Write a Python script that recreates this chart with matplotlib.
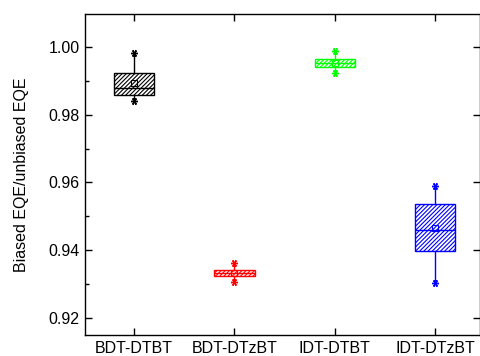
import numpy as np
import matplotlib
matplotlib.use("Agg")
import matplotlib.pyplot as plt

plt.rcParams['font.family'] = ['Liberation Sans', 'DejaVu Sans']
plt.rcParams['hatch.linewidth'] = 0.8

names = ["BDT-DTBT", "BDT-DTzBT", "IDT-DTBT", "IDT-DTzBT"]
colors = ["#000000", "#ff0000", "#00ff00", "#0000ff"]
q1 = [0.9858, 0.9324, 0.9941, 0.9398]
q3 = [0.9923, 0.9342, 0.9965, 0.9537]
med = [0.9879, 0.9334, 0.9953, 0.9460]
mean = [0.9894, 0.9333, 0.9952, 0.9465]
vmin = [0.9841, 0.9306, 0.9923, 0.9303]
vmax = [0.9982, 0.9362, 0.9988, 0.9590]

fig = plt.figure(figsize=(4.81, 3.56), dpi=100)
ax = fig.add_axes([0.177, 0.059, 0.821, 0.902])

pos = np.arange(1, len(names) + 1)
for i in range(len(names)):
    c = colors[i]
    st = [dict(med=med[i], q1=q1[i], q3=q3[i], whislo=vmin[i], whishi=vmax[i],
               mean=mean[i], fliers=[vmin[i], vmax[i]])]
    b = ax.bxp(st, positions=[pos[i]], widths=0.4, patch_artist=True,
               showmeans=True, showcaps=False,
               boxprops=dict(facecolor="white", edgecolor=c, linewidth=1.0, hatch="////////"),
               medianprops=dict(color=c, linewidth=1.0),
               whiskerprops=dict(color=c, linewidth=1.0),
               meanprops=dict(marker="s", markerfacecolor="none", markeredgecolor=c,
                              markersize=4, markeredgewidth=0.8),
               flierprops=dict(marker=(6, 2, 90), markeredgecolor=c, markersize=5,
                               markeredgewidth=1.0))

ax.set_xlim(0.51, 4.45)
ax.set_ylim(0.915, 1.0097)
ax.set_xticks(pos)
ax.set_xticklabels(names, fontsize=11.5)
ax.set_yticks([0.92, 0.94, 0.96, 0.98, 1.00])
ax.set_yticklabels(["0.92", "0.94", "0.96", "0.98", "1.00"], fontsize=11.5)
ax.set_yticks(np.arange(0.93, 1.0, 0.02), minor=True)
ax.tick_params(axis="both", which="major", direction="in", length=5, width=1,
               top=True, right=True, pad=4)
ax.tick_params(axis="y", which="minor", direction="in", length=3, width=1, right=False)
ax.set_ylabel("Biased EQE/unbiased EQE", fontsize=11.5, labelpad=14)
for s in ax.spines.values():
    s.set_linewidth(1.0)

fig.savefig("out.png", dpi=100)
